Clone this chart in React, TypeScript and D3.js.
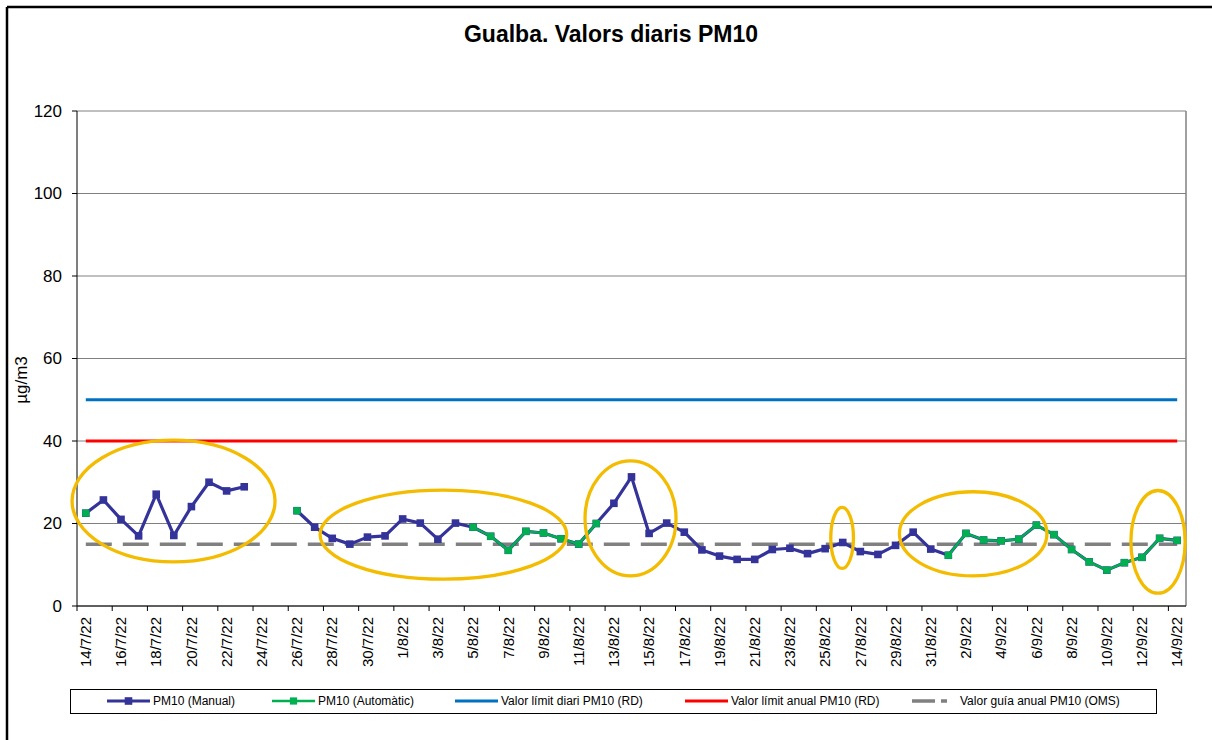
import React from "react";
import * as d3 from "d3";

// ---------- DATA ----------
const startDate = new Date(2022, 6, 14);
const dayCount = 63;
const categories: Date[] = d3.timeDay.range(startDate, d3.timeDay.offset(startDate, dayCount));

const pm10Manual: (number | null)[] = [
  22.5, 25.7, 21.0, 17.0, 27.1, 17.1, 24.1, 30.0, 27.9, 28.9,
  null, null, 23.1, 19.1, 16.4, 15.0, 16.7, 17.0, 21.1, 20.1,
  16.2, 20.1, 19.1, 16.9, 13.5, 18.1, 17.7, 16.3, 15.0, 20.0,
  24.9, 31.3, 17.6, 20.1, 17.9, 13.6, 12.1, 11.3, 11.3, 13.7,
  14.0, 12.7, 13.9, 15.4, 13.2, 12.5, 14.7, 17.9, 13.8, 12.3,
  17.6, 16.0, 15.8, 16.2, 19.6, 17.3, 13.7, 10.7, 8.7, 10.5,
  11.8, 16.4, 15.9,
];

const pm10Auto: (number | null)[] = [
  22.5, null, null, null, null, null, null, null, null, null,
  null, null, 23.1, null, null, null, null, null, null, null,
  null, null, 19.1, 16.9, 13.5, 18.1, 17.7, 16.3, 15.0, 20.0,
  null, null, null, null, null, null, null, null, null, null,
  null, null, null, null, null, null, null, null, null, 12.3,
  17.6, 16.0, 15.8, 16.2, 19.6, 17.3, 13.7, 10.7, 8.7, 10.5,
  11.8, 16.4, 15.9,
];

const limitDaily = 50;
const limitAnnual = 40;
const guideAnnual = 15;

const yTicks = [0, 20, 40, 60, 80, 100, 120];

// highlight ellipses: [dayStart, dayEnd, valueLow, valueHigh]
const highlights: [number, number, number, number][] = [
  [-0.78, 10.75, 10.7, 40.2],
  [13.31, 27.32, 6.5, 28.1],
  [28.36, 33.53, 7.3, 35.2],
  [42.32, 43.61, 9.1, 23.9],
  [46.22, 54.6, 7.3, 27.7],
  [59.37, 62.45, 3.1, 28.0],
];

const legendItems = [
  { label: "PM10 (Manual)", kind: "manual" },
  { label: "PM10 (Automàtic)", kind: "auto" },
  { label: "Valor límit diari PM10 (RD)", kind: "daily" },
  { label: "Valor límit anual PM10 (RD)", kind: "annual" },
  { label: "Valor guía anual PM10 (OMS)", kind: "guide" },
];

// ---------- STYLE ----------
const W = 1212;
const H = 740;
const FONT = "Arial, 'Liberation Sans', sans-serif";
const C_MANUAL = "#333399";
const C_AUTO = "#00B050";
const C_DAILY = "#0070C0";
const C_ANNUAL = "#FF0000";
const C_GUIDE = "#808080";
const C_HIGHLIGHT = "#F3BC00";

const plot = { left: 77, right: 1186, top: 111, bottom: 606 };
const legendX = [107, 272, 455, 685, 912];

export default function App() {
  const idx = categories.map((_, i) => i);
  const x = d3.scaleBand<number>().domain(idx).range([plot.left, plot.right]).paddingInner(0).paddingOuter(0);
  const bw = x.bandwidth();
  const cx = (i: number) => (x(i) as number) + bw / 2;
  const xLin = d3.scaleLinear().domain([-0.5, dayCount - 0.5]).range([plot.left, plot.right]);
  const y = d3.scaleLinear().domain([0, 120]).range([plot.bottom, plot.top]);

  const lineGen = d3
    .line<number | null>()
    .defined((d) => d !== null)
    .x((_, i) => cx(i))
    .y((d) => y(d as number));

  const fmt = d3.timeFormat("%-d/%-m/%y");
  const x0 = cx(0);
  const x1 = cx(dayCount - 1);

  const tickBoundaries = d3.range(0, dayCount + 1, 2).map((i) => plot.left + i * bw);

  const legendY = 701;

  return (
    <svg
      width={W}
      height={H}
      style={{ position: "absolute", left: 0, top: 0, background: "#fff" }}
      fontFamily={FONT}
    >
      <rect x={0} y={0} width={W} height={H} fill="#fff" />
      {/* outer frame (cropped) */}
      <line x1={7} y1={7} x2={W} y2={7} stroke="#000" strokeWidth={2.5} />
      <line x1={7} y1={7} x2={7} y2={H} stroke="#000" strokeWidth={2.5} />

      {/* title */}
      <text x={611} y={42} textAnchor="middle" fontSize={23} fontWeight="bold">
        Gualba. Valors diaris PM10
      </text>

      {/* gridlines */}
      {yTicks.map((t) => (
        <line key={"g" + t} x1={plot.left} x2={plot.right} y1={y(t)} y2={y(t)} stroke="#808080" strokeWidth={1} />
      ))}
      {/* plot border right */}
      <line x1={plot.right} x2={plot.right} y1={plot.top} y2={plot.bottom} stroke="#808080" strokeWidth={1.5} />

      {/* y axis */}
      <line x1={plot.left} x2={plot.left} y1={plot.top} y2={plot.bottom} stroke="#000" strokeWidth={1} />
      {yTicks.map((t) => (
        <g key={"yt" + t}>
          <line x1={plot.left - 5} x2={plot.left} y1={y(t)} y2={y(t)} stroke="#000" />
          <text x={62} y={y(t)} dy="0.35em" textAnchor="end" fontSize={17}>
            {t}
          </text>
        </g>
      ))}
      <text transform={`translate(21,380) rotate(-90)`} textAnchor="middle" fontSize={17} dy="0.35em">
        µg/m3
      </text>

      {/* x axis */}
      <line x1={plot.left} x2={plot.right} y1={plot.bottom} y2={plot.bottom} stroke="#000" strokeWidth={1} />
      {tickBoundaries.map((tx, k) => (
        <line key={"xt" + k} x1={tx} x2={tx} y1={plot.bottom} y2={plot.bottom + 5} stroke="#000" />
      ))}
      {categories.map((d, i) =>
        i % 2 === 0 ? (
          <text
            key={"xl" + i}
            transform={`translate(${cx(i)},617) rotate(-90)`}
            textAnchor="end"
            dy="0.35em"
            fontSize={15}
          >
            {fmt(d)}
          </text>
        ) : null
      )}

      {/* reference lines */}
      <line x1={x0} x2={x1} y1={y(limitDaily)} y2={y(limitDaily)} stroke={C_DAILY} strokeWidth={3} />
      <line x1={x0} x2={x1} y1={y(limitAnnual)} y2={y(limitAnnual)} stroke={C_ANNUAL} strokeWidth={3} />
      <line
        x1={x0}
        x2={x1}
        y1={y(guideAnnual)}
        y2={y(guideAnnual)}
        stroke={C_GUIDE}
        strokeWidth={3.5}
        strokeDasharray="26 11"
      />

      {/* manual series */}
      <path d={lineGen(pm10Manual) || ""} fill="none" stroke={C_MANUAL} strokeWidth={3.2} strokeLinejoin="round" />
      {pm10Manual.map((v, i) =>
        v === null ? null : (
          <rect key={"m" + i} x={cx(i) - 3.8} y={y(v) - 3.8} width={7.6} height={7.6} fill={C_MANUAL} />
        )
      )}
      {/* automatic series */}
      <path d={lineGen(pm10Auto) || ""} fill="none" stroke={C_AUTO} strokeWidth={2.4} strokeLinejoin="round" />
      {pm10Auto.map((v, i) =>
        v === null ? null : (
          <rect key={"a" + i} x={cx(i) - 3.6} y={y(v) - 3.6} width={7.2} height={7.2} fill={C_AUTO} />
        )
      )}

      {/* highlight ellipses */}
      {highlights.map(([a, b, lo, hi], k) => {
        const ex0 = xLin(a);
        const ex1 = xLin(b);
        const ey0 = y(hi);
        const ey1 = y(lo);
        return (
          <ellipse
            key={"e" + k}
            cx={(ex0 + ex1) / 2}
            cy={(ey0 + ey1) / 2}
            rx={(ex1 - ex0) / 2}
            ry={(ey1 - ey0) / 2}
            fill="none"
            stroke={C_HIGHLIGHT}
            strokeWidth={3.3}
          />
        );
      })}

      {/* legend */}
      <rect x={70.5} y={689.5} width={1086} height={24} fill="#fff" stroke="#000" strokeWidth={1} />
      {legendItems.map((it, k) => {
        const lx = legendX[k];
        let mark: React.ReactNode = null;
        if (it.kind === "manual") {
          mark = (
            <g>
              <line x1={lx} x2={lx + 43} y1={legendY} y2={legendY} stroke={C_MANUAL} strokeWidth={3.2} />
              <rect x={lx + 21.5 - 3.8} y={legendY - 3.8} width={7.6} height={7.6} fill={C_MANUAL} />
            </g>
          );
        } else if (it.kind === "auto") {
          mark = (
            <g>
              <line x1={lx} x2={lx + 43} y1={legendY} y2={legendY} stroke={C_AUTO} strokeWidth={2.6} />
              <rect x={lx + 21.5 - 3.6} y={legendY - 3.6} width={7.2} height={7.2} fill={C_AUTO} />
            </g>
          );
        } else if (it.kind === "daily") {
          mark = <line x1={lx} x2={lx + 43} y1={legendY} y2={legendY} stroke={C_DAILY} strokeWidth={3} />;
        } else if (it.kind === "annual") {
          mark = <line x1={lx} x2={lx + 43} y1={legendY} y2={legendY} stroke={C_ANNUAL} strokeWidth={3} />;
        } else {
          mark = (
            <line
              x1={lx}
              x2={lx + 35}
              y1={legendY}
              y2={legendY}
              stroke={C_GUIDE}
              strokeWidth={3.5}
              strokeDasharray="23 6"
            />
          );
        }
        return (
          <g key={"lg" + k}>
            {mark}
            <text x={lx + (it.kind === "guide" ? 48 : 46)} y={legendY} dy="0.35em" fontSize={12}>
              {it.label}
            </text>
          </g>
        );
      })}
    </svg>
  );
}
